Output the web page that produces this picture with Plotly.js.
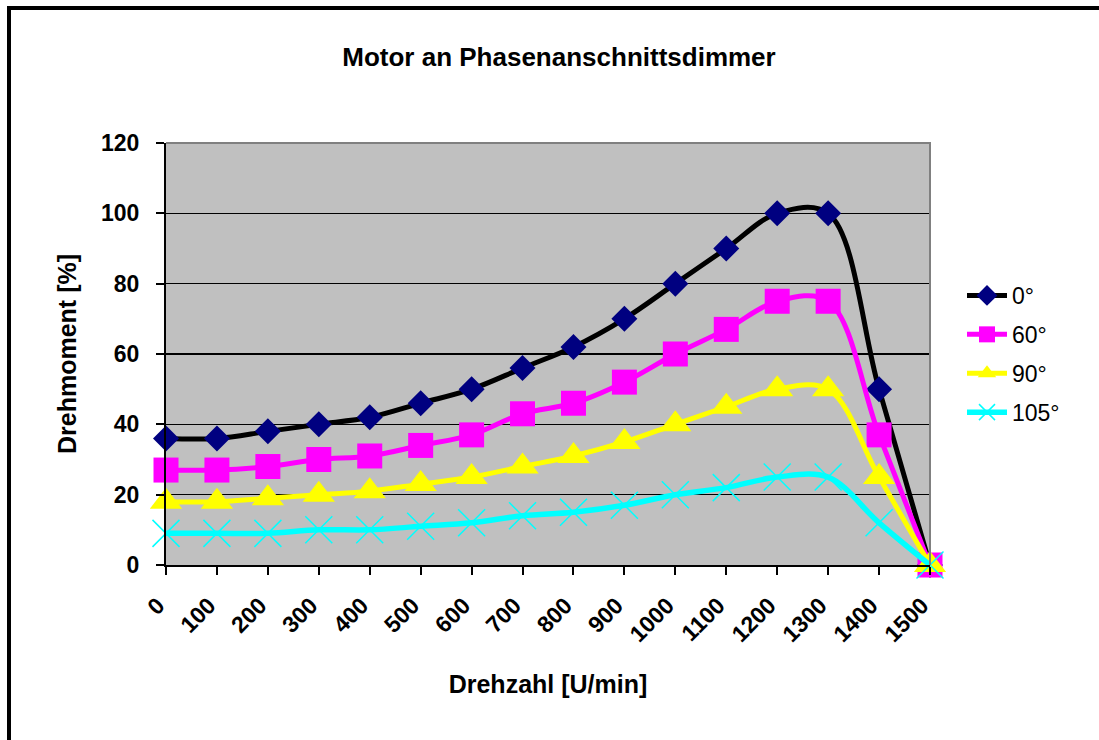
<!DOCTYPE html>
<html>
<head>
<meta charset="utf-8">
<script src="https://cdn.plot.ly/plotly-3.0.1.min.js"></script>
<style>
  html, body { margin: 0; padding: 0; background: #fff; overflow: hidden; }
  #wrap { position: relative; width: 1099px; height: 740px; overflow: hidden; }
  #chart { position: absolute; left: 0; top: 0; width: 1099px; height: 740px; }
  #frame { position: absolute; left: 7px; top: 6px; width: 1200px; height: 900px;
           border: 4px solid #000; box-sizing: border-box; pointer-events: none; }
</style>
</head>
<body>
<div id="wrap">
  <div id="chart"></div>
  <div id="frame"></div>
</div>
<script>
const speed = [0, 100, 200, 300, 400, 500, 600, 700, 800, 900, 1000, 1100, 1200, 1300, 1400, 1500];
const torque0   = [36, 36, 38, 40, 42, 46, 50, 56, 62, 70, 80, 90, 100, 100, 50, 0];
const torque60  = [27, 27, 28, 30, 31, 34, 37, 43, 46, 52, 60, 67, 75, 75, 37, 0];
const torque90  = [18, 18, 19, 20, 21, 23, 25, 28, 31, 35, 40, 45, 50, 50, 25, 0];
const torque105 = [9, 9, 9, 10, 10, 11, 12, 14, 15, 17, 20, 22, 25, 25, 12, 0];
const seriesNames = ['0°', '60°', '90°', '105°'];
const tickVals = speed;
const tickText = speed.map(String);

const FONT = 'Liberation Sans, Arial, sans-serif';

function tr(y, name, lineColor, sym, mColor, mSize, lw, mLine) {
  return {
    x: speed, y: y, name: name, type: 'scatter', mode: 'lines+markers',
    legendgroup: name,
    line: { color: lineColor, width: lw, shape: 'spline', smoothing: 1 },
    marker: { symbol: sym, color: mColor, size: mSize, line: mLine || { width: 0 } },
    cliponaxis: false
  };
}

const data = [
  tr(torque0, seriesNames[0], '#000000', 'diamond', '#000080', 20, 5),
  tr(torque60, seriesNames[1], '#FF00FF', 'square', '#FF00FF', 25, 5),
  tr(torque90, seriesNames[2], '#FFFF00', 'triangle-up', '#FFFF00', 28, 5),
  tr(torque105, seriesNames[3], '#00FFFF', 'x-thin', '#00FFFF', 27, 5.5, { color: '#00FFFF', width: 1.5 })
];

const layout = {
  width: 1099, height: 740,
  margin: { l: 166, r: 169, t: 143, b: 175 },
  paper_bgcolor: '#FFFFFF',
  plot_bgcolor: '#C0C0C0',
  font: { family: FONT, color: '#000' },
  title: {
    text: '<b>Motor an Phasenanschnittsdimmer</b>',
    font: { family: FONT, size: 26, color: '#000' },
    x: 559 / 1099, xref: 'container', xanchor: 'center',
    y: 1 - 57 / 740, yref: 'container', yanchor: 'middle'
  },
  xaxis: {
    range: [0, 1500],
    tickmode: 'array', tickvals: tickVals, ticktext: tickText,
    tickangle: -45,
    tickfont: { family: FONT, size: 23, color: '#000', weight: 'bold' },
    ticks: 'outside', ticklen: 8, tickwidth: 2, tickcolor: '#000',
    ticklabelstandoff: 8,
    ticklabelshift: -8,
    showline: true, linecolor: '#000', linewidth: 2,
    showgrid: false, zeroline: false,
    title: { text: '<b>Drehzahl [U/min]</b>', font: { family: FONT, size: 25, color: '#000' }, standoff: 30 }
  },
  yaxis: {
    range: [0, 120],
    tickmode: 'array', tickvals: [0, 20, 40, 60, 80, 100, 120],
    tickfont: { family: FONT, size: 23, color: '#000', weight: 'bold' },
    ticks: 'outside', ticklen: 8, tickwidth: 2, tickcolor: '#000',
    ticklabelstandoff: 12,
    showline: true, linecolor: '#000', linewidth: 2,
    showgrid: true, gridcolor: '#000', gridwidth: 1.5,
    zeroline: false,
    title: { text: '<b>Drehmoment [%]</b>', font: { family: FONT, size: 25, color: '#000' }, standoff: 17 }
  },
  shapes: [{
    type: 'path', xref: 'paper', yref: 'paper',
    path: 'M0,1 L1,1 L1,0',
    line: { color: '#808080', width: 2 }, layer: 'above'
  }],
  showlegend: true,
  legend: {
    x: (962 - 166) / 764, xanchor: 'left',
    y: (565 - 274) / 422, yanchor: 'top',
    font: { family: FONT, size: 23, color: '#000' },
    bgcolor: 'rgba(0,0,0,0)',
    tracegroupgap: 6,
    itemwidth: 40
  }
};

Plotly.newPlot('chart', data, layout, { displayModeBar: false, staticPlot: true });
</script>
</body>
</html>
